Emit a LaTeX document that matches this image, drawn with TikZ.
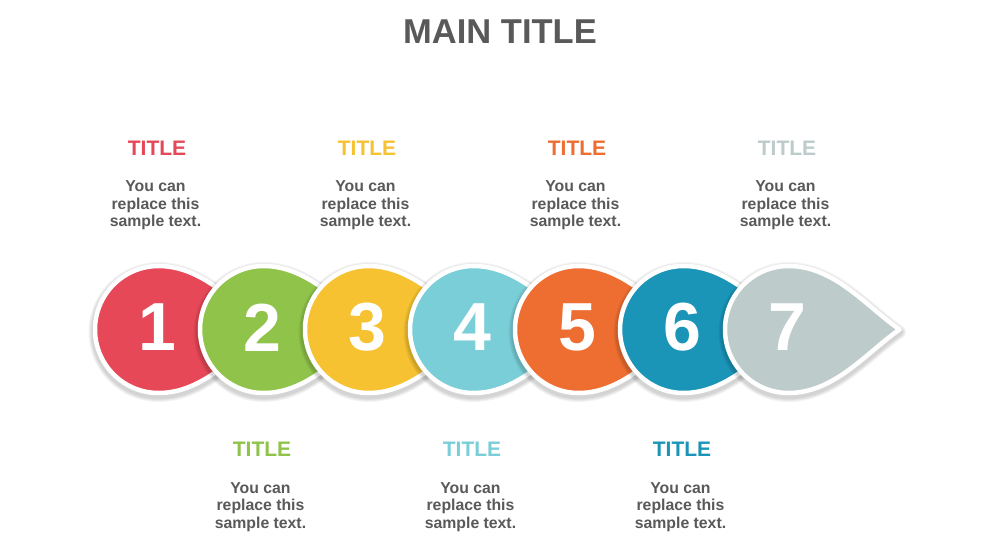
\documentclass[tikz,border=0pt]{standalone}
\usepackage{fontspec}
\setmainfont{Liberation Sans}
\definecolor{cA}{HTML}{E64858}
\definecolor{cB}{HTML}{8FC349}
\definecolor{cC}{HTML}{F6C231}
\definecolor{cD}{HTML}{79CED8}
\definecolor{cE}{HTML}{EE6E31}
\definecolor{cF}{HTML}{1A94B7}
\definecolor{cG}{HTML}{BDCBCB}
\definecolor{txtgray}{HTML}{595959}
\newcommand\droppath{(0,63.5) arc[start angle=90, end angle=270, radius=63.5]
    .. controls +(46,0) and +(-33,-23) .. (111,0)
    .. controls +(-33,23) and +(46,0) .. (0,63.5) -- cycle}
\newcommand\dropat[3]{%
  \begin{scope}[shift={(#1,228.5)}]
    \foreach \w in {13,11,9,7}{
      \path[draw=black, draw opacity=0.045, line width=\w pt, line join=round, shift={(0,-2.5)}] \droppath;
    }
    \path[dropshape=#2] \droppath;
  \end{scope}
  \node[numtext] (n#3) at (#1-1.5,230.5) {#3};
}
\begin{document}
\begin{tikzpicture}[x=1pt,y=1pt,
  dropshape/.style={draw=white, line width=4.5pt, line join=round, fill=#1},
  numtext/.style={text=white, font=\bfseries\fontsize{68}{68}\selectfont, inner sep=0pt},
  titletext/.style={text=#1, font=\bfseries\fontsize{21}{24}\selectfont, inner sep=0pt},
  bodytext/.style={text=txtgray, font=\bfseries\fontsize{15.8}{17.5}\selectfont, align=center, inner sep=0pt, anchor=base}]
\useasboundingbox (0,0) rectangle (1000,558);
\fill[white] (0,0) rectangle (1000,558);

\node[text=txtgray, font=\bfseries\fontsize{34.5}{40}\selectfont, inner sep=0pt] (main) at (500,526) {MAIN TITLE};

\dropat{158.5}{cA}{1}
\dropat{263.5}{cB}{2}
\dropat{368.5}{cC}{3}
\dropat{473.5}{cD}{4}
\dropat{578.5}{cE}{5}
\dropat{683.5}{cF}{6}
\dropat{788.5}{cG}{7}

% top labels
\node[titletext=cA] (t1) at (157,410) {TITLE};
\node[titletext=cC] (t3) at (367,410) {TITLE};
\node[titletext=cE] (t5) at (577,410) {TITLE};
\node[titletext=cG] (t7) at (787,410) {TITLE};
\node[bodytext] (b1) at (155.5,331.3) {You can\\replace this\\sample text.};
\node[bodytext] (b3) at (365.5,331.3) {You can\\replace this\\sample text.};
\node[bodytext] (b5) at (575.5,331.3) {You can\\replace this\\sample text.};
\node[bodytext] (b7) at (785.5,331.3) {You can\\replace this\\sample text.};

% bottom labels
\node[titletext=cB] (t2) at (262,108.5) {TITLE};
\node[titletext=cD] (t4) at (472,108.5) {TITLE};
\node[titletext=cF] (t6) at (682,108.5) {TITLE};
\node[bodytext] (b2) at (260.5,29.7) {You can\\replace this\\sample text.};
\node[bodytext] (b4) at (470.5,29.7) {You can\\replace this\\sample text.};
\node[bodytext] (b6) at (680.5,29.7) {You can\\replace this\\sample text.};
\end{tikzpicture}
\end{document}
